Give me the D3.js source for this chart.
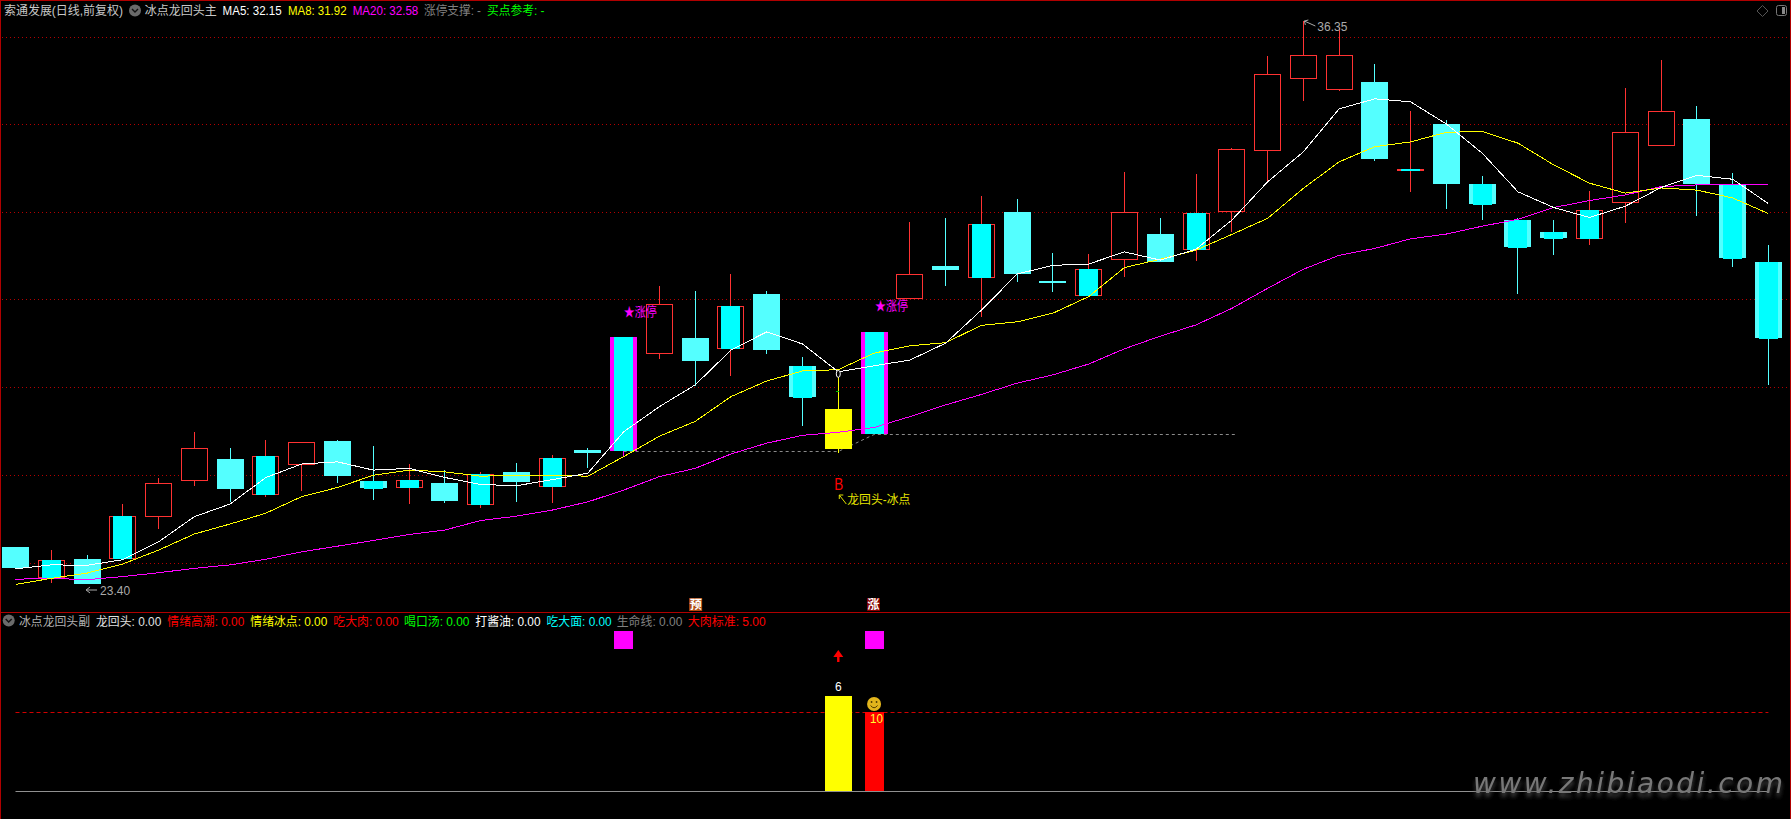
<!DOCTYPE html>
<html><head><meta charset="utf-8">
<style>html,body{margin:0;padding:0;background:#000;overflow:hidden}svg{display:block}
text{font-family:"Liberation Sans","Noto Sans CJK SC",sans-serif;font-size:12px}</style>
<script src="https://cdn.jsdelivr.net/npm/d3@7/dist/d3.min.js"></script>
</head><body><svg id="c" width="1791" height="819"></svg>
<script>
const open=[24.25,23.54,23.98,23.98,24.95,25.78,26.28,25.45,26.13,26.69,25.77,25.61,25.72,25.22,25.98,25.63,26.48,26.47,28.70,29.06,28.81,30.07,28.41,27.43,26.86,29.95,30.71,30.45,31.96,30.37,30.03,30.85,31.45,31.09,31.95,33.37,35.02,34.77,34.95,32.90,33.98,32.60,31.77,31.50,31.34,32.16,33.48,34.10,32.61,30.81];
const close=[23.77,23.95,23.41,24.96,25.72,26.52,25.59,26.34,26.66,25.88,25.61,25.79,25.31,25.93,25.75,26.30,26.41,29.08,29.83,28.53,29.79,28.78,27.70,26.51,29.20,30.52,30.62,31.68,30.54,30.35,30.65,31.96,30.81,31.93,33.40,35.12,35.56,35.56,33.18,32.95,32.60,32.14,31.15,31.36,32.00,33.79,34.27,32.59,30.90,29.06];
const high=[24.25,24.18,24.07,25.24,25.84,26.90,26.53,26.71,26.66,26.71,26.57,26.16,26.02,25.98,26.18,26.37,26.53,29.08,30.25,30.14,30.53,30.14,28.62,28.32,29.20,31.72,31.83,32.32,32.26,31.01,30.99,32.88,31.83,32.83,33.43,35.54,36.35,36.19,35.36,34.28,34.07,32.78,31.82,31.77,32.44,34.81,35.45,34.39,32.85,31.20];
const low=[23.77,23.43,23.40,23.98,24.67,25.66,25.29,25.41,25.54,25.72,25.33,25.24,25.26,25.15,25.29,25.26,26.06,26.32,28.58,27.96,28.19,28.70,27.04,26.42,26.86,29.95,30.26,29.53,30.35,30.12,30.03,30.46,30.81,30.83,31.50,32.63,34.52,34.75,33.13,32.42,32.03,31.77,30.07,30.97,31.20,31.70,33.48,31.86,30.69,27.98];
// candle class: r up, rc up+signal, c down, cc down+signal, mc limit-up, y dragon-return
const kinds=["c","rc","c","rc","r","r","c","rc","r","c","cc","rc","c","rc","c","rc","c","mc","r","c","rc","c","cc","y","mc","r","c","rc","c","c","rc","r","c","rc","r","r","r","r","c","rc","c","cc","cc","cc","rc","r","r","c","cc","cc"];
const ma5=[23.75,23.84,23.83,23.96,24.37,24.95,25.24,25.85,26.16,26.21,26.02,26.06,25.85,25.69,25.66,25.80,25.95,26.90,27.48,27.98,28.78,29.20,28.92,28.28,28.42,28.55,28.94,29.70,30.53,30.73,30.76,31.04,30.85,31.10,31.77,32.65,33.34,34.33,34.56,34.49,33.98,33.31,32.42,32.06,31.83,32.09,32.52,32.80,32.71,32.15];
const ma8=[23.39,23.53,23.65,23.86,24.18,24.55,24.78,25.03,25.41,25.62,25.90,26.02,25.98,25.88,25.90,25.90,25.88,26.33,26.80,27.14,27.71,28.07,28.30,28.33,28.71,28.88,28.95,29.35,29.43,29.63,30.01,30.68,30.87,31.08,31.44,31.81,32.50,33.11,33.46,33.57,33.79,33.81,33.54,33.04,32.62,32.39,32.51,32.46,32.28,31.92];
const ma20=[23.51,23.53,23.50,23.57,23.66,23.76,23.84,23.97,24.14,24.27,24.40,24.54,24.64,24.86,24.96,25.10,25.29,25.56,25.87,26.06,26.39,26.64,26.82,26.89,27.00,27.25,27.52,27.76,28.02,28.21,28.46,28.81,29.10,29.36,29.74,30.20,30.64,30.96,31.12,31.34,31.45,31.63,31.79,32.06,32.22,32.35,32.54,32.58,32.60,32.58];
const gridPrices=[35.99,33.97,31.95,29.95,27.92,25.90,23.89];
const supportA=[17,23,26.47], supportB=[24,34.1,26.86];
const headerTexts=[["索通发展(日线,前复权)","#c8c8c8"],["冰点龙回头主","#c8c8c8"],["MA5: 32.15","#ffffff"],["MA8: 31.92","#ffff00"],["MA20: 32.58","#ff00ff"],["涨停支撑: -","#808080"],["买点参考: -","#00ff00"]];
const subTexts=[["冰点龙回头副","#b0b0b0"],["龙回头: 0.00","#e0e0e0"],["情绪高潮: 0.00","#ff0000"],["情绪冰点: 0.00","#ffff00"],["吃大肉: 0.00","#ff0000"],["喝口汤: 0.00","#00ff00"],["打酱油: 0.00","#ffffff"],["吃大面: 0.00","#00ffff"],["生命线: 0.00","#808080"],["大肉标准: 5.00","#ff0000"]];
const subBars=[[23,6,"#ffff00"],[24,5,"#ff0000"]];
const subSquares=[17,24];
const subLimit=5;

const svg=d3.select("#c");
const x=d3.scaleLinear().domain([0,49]).range([15.5,1768.4]);
const y=d3.scaleLinear().domain([23.40,36.35]).range([584,21]);
const yS=d3.scaleLinear().domain([0,6]).range([791,696]);
const px=i=>Math.floor(x(i));
const idx=d3.range(open.length);
const UP="#ff3232",LC="#54ffff",BC="#00ffff",MG="#ff00ff",YL="#ffff00";

svg.append("rect").attr("width",1791).attr("height",819).attr("fill","#000");
// grid
svg.append("g").selectAll("line").data(gridPrices).join("line")
 .attr("x1",2).attr("x2",1790).attr("y1",d=>Math.round(y(d))+.5).attr("y2",d=>Math.round(y(d))+.5)
 .attr("stroke","#b40000").attr("stroke-dasharray","1 3");
// frame
const frame=svg.append("g").attr("fill","#b00000");
frame.append("rect").attr("x",0).attr("y",0).attr("width",1791).attr("height",1);
frame.append("rect").attr("x",0).attr("y",0).attr("width",1).attr("height",819);
frame.append("rect").attr("x",1790).attr("y",0).attr("width",1).attr("height",819);
frame.append("rect").attr("x",0).attr("y",612).attr("width",1791).attr("height",1);

// support dashed
const lineS=d3.line().x(d=>x(d[0])).y(d=>Math.round(y(d[1]))+.5);
svg.append("path").attr("fill","none").attr("stroke","#8a8a8a").attr("stroke-dasharray","3 3")
 .attr("d",lineS([[supportA[0],supportA[2]],[supportA[1],supportA[2]],[supportB[0],supportB[2]],[supportB[1],supportB[2]]]));

// candles
const g=svg.append("g").attr("shape-rendering","crispEdges");
const wickColor=k=>k==="mc"?MG:k==="y"?YL:(k==="r"||k==="rc")?UP:LC;
g.selectAll("line.w").data(idx).join("line").attr("class","w")
 .attr("x1",i=>px(i)+.5).attr("x2",i=>px(i)+.5)
 .attr("y1",i=>y(high[i])).attr("y2",i=>y(low[i]))
 .attr("stroke",i=>wickColor(kinds[i]));
const bt=i=>Math.round(y(Math.max(open[i],close[i])));
const bb=i=>Math.max(bt(i)+2,Math.round(y(Math.min(open[i],close[i]))));
idx.forEach(i=>{
 const k=kinds[i],cx=px(i)+.5,t=bt(i),b=bb(i);
 if(k==="r"||k==="rc"){
  g.append("rect").attr("x",cx-13).attr("y",t+.5).attr("width",26).attr("height",b-t-1)
   .attr("fill","#000").attr("stroke",UP);
  if(k==="rc") g.append("rect").attr("x",cx-9.5).attr("y",t).attr("width",19).attr("height",b-t).attr("fill",BC);
 } else if(k==="c"||k==="cc"){
  g.append("rect").attr("x",cx-13.5).attr("y",t).attr("width",27).attr("height",b-t).attr("fill",LC);
  if(k==="cc") g.append("rect").attr("x",cx-9.5).attr("y",t).attr("width",19).attr("height",b-t+1).attr("fill",BC);
 } else if(k==="mc"){
  g.append("rect").attr("x",cx-13.5).attr("y",t).attr("width",27).attr("height",b-t).attr("fill",MG);
  g.append("rect").attr("x",cx-9.5).attr("y",t).attr("width",19).attr("height",b-t).attr("fill",BC);
 } else {
  g.append("rect").attr("x",cx-13.5).attr("y",t).attr("width",27).attr("height",b-t).attr("fill",YL);
 }
});
// small green tick on the signal candle's wick
g.append("rect").attr("x",px(23)-2).attr("y",y(27.43)-18).attr("width",3).attr("height",1).attr("fill","#00c000");

// MAs
const mkLine=d3.line().x((d,i)=>x(i)).y(d=>y(d));
[[ma20,MG],[ma8,YL],[ma5,"#ffffff"]].forEach(([s,c])=>{
 svg.append("path").attr("d",mkLine(s)).attr("fill","none").attr("stroke",c).attr("stroke-width",1).attr("shape-rendering","crispEdges");
});
// small marker
svg.append("ellipse").attr("cx",x(23)).attr("cy",y(ma5[23])+2).attr("rx",2).attr("ry",3.5)
 .attr("fill","#000").attr("stroke","#fff");

function label(tx,ty,s,c,opt={}){
 const t=svg.append("text").attr("x",tx).attr("y",ty).attr("fill",c).text(s);
 if(opt.len) t.attr("textLength",opt.len).attr("lengthAdjust","spacingAndGlyphs");
 if(opt.size) t.style("font-size",opt.size+"px");
 if(opt.anchor) t.attr("text-anchor",opt.anchor);
 if(opt.weight) t.style("font-weight",opt.weight);
 return t;
}
// header row
const headerPos=[[4,119],[144.7,72],[222.6,59],[288,58.5],[352.7,65.6],[424,57],[487,57.5]];
headerTexts.forEach((d,i)=>label(headerPos[i][0],15,d[0],d[1],{len:headerPos[i][1]}));
function chevron(cx,cy){
 svg.append("circle").attr("cx",cx).attr("cy",cy).attr("r",6).attr("fill","#6a6a6a");
 svg.append("path").attr("d",`M${cx-3},${cy-1.5}L${cx},${cy+1.5}L${cx+3},${cy-1.5}`).attr("fill","none").attr("stroke","#111").attr("stroke-width",1.4);
}
chevron(135,10.5);
chevron(8.7,620.5);
const subPos=[[19,71],[96,65.3],[167.3,77],[250.3,77],[333.3,65.3],[404,65.4],[475.3,65.2],[546.5,65.2],[616.7,65.6],[687.7,78]];
subTexts.forEach((d,i)=>label(subPos[i][0],625.5,d[0],d[1],{len:subPos[i][1]}));

// top-right icons
svg.append("path").attr("d","M1762.5,5.5L1768,11L1762.5,16.5L1757,11Z").attr("fill","none").attr("stroke","#555");
svg.append("rect").attr("x",1776.5).attr("y",5.5).attr("width",10).attr("height",10).attr("rx",2).attr("fill","none").attr("stroke","#777");
svg.append("rect").attr("x",1782).attr("y",7).attr("width",3).attr("height",7).attr("fill","#888");

// price extremes
const hiI=high.indexOf(d3.max(high)), loI=low.indexOf(d3.min(low));
const ann=svg.append("g").attr("fill","none").attr("stroke","#aaa");
ann.append("path").attr("d",`M${x(hiI)+1},${y(high[hiI])}L${x(hiI)+12},${y(high[hiI])+5}M${x(hiI)+1},${y(high[hiI])}l4,-1M${x(hiI)+1},${y(high[hiI])}l1,4`);
ann.append("path").attr("d",`M${x(loI)-1},${y(low[loI])+6}H${x(loI)+10}M${x(loI)-1},${y(low[loI])+6}l4,-3M${x(loI)-1},${y(low[loI])+6}l4,3`);
label(x(hiI)+14,31,d3.format(".2f")(high[hiI]),"#aaaaaa",{len:30});
label(x(loI)+13,594.5,d3.format(".2f")(low[loI]),"#aaaaaa",{len:30});

// limit-up and signal labels
label(x(17),316,"★涨停",MG,{size:13,len:33});
label(x(24)+1,310,"★涨停",MG,{size:13,len:33});
label(x(23),490,"B","#ff0000",{size:17,len:9}).attr("x",x(23)-4);
svg.append("path").attr("d",`M${x(23)+8},${504}L${x(23)+1},${495}M${x(23)+1},${495}l4,0M${x(23)+1},${495}l0,4`).attr("fill","none").attr("stroke","#e0e000");
label(x(23)+9,504,"龙回头-冰点","#e6e600",{len:63});

// tags above separator
[[17,"预","#b04a10",72],[24,"涨","#800000",-0.6]].forEach(([i,s,c,dx])=>{
 const cx=x(i)+dx;
 svg.append("rect").attr("x",cx-6.5).attr("y",598).attr("width",13).attr("height",13).attr("fill",c);
 label(cx,609,s,"#ffffff",{anchor:"middle",weight:"bold"});
});

// sub panel
svg.append("line").attr("x1",x(0)).attr("x2",x(49)).attr("y1",Math.round(yS(subLimit))+.5).attr("y2",Math.round(yS(subLimit))+.5)
 .attr("stroke","#d00000").attr("stroke-dasharray","4 3");
svg.append("g").attr("shape-rendering","crispEdges").selectAll("rect").data(subBars).join("rect")
 .attr("x",d=>px(d[0])+.5-(d[0]===23?13.5:9.5)).attr("width",d=>d[0]===23?27:19)
 .attr("y",d=>yS(d[1])).attr("height",d=>yS(0)-yS(d[1])).attr("fill",d=>d[2]);
svg.append("line").attr("x1",x(0)).attr("x2",x(49)).attr("y1",791.5).attr("y2",791.5).attr("stroke","#909090");
svg.append("g").attr("shape-rendering","crispEdges").selectAll("rect").data(subSquares).join("rect")
 .attr("x",d=>px(d)+.5-9.5).attr("width",19).attr("y",yS(10.1)).attr("height",yS(9)-yS(10.1)).attr("fill",MG);
// arrow
const ax=x(23);
svg.append("path").attr("d",`M${ax},650L${ax+5},657H${ax+1.2}V662H${ax-1.2}V657H${ax-5}Z`).attr("fill","#ff0000");
label(ax,691,"6","#ffffff",{anchor:"middle"});
// smiley
const sx=x(24),sy=704;
svg.append("circle").attr("cx",sx).attr("cy",sy).attr("r",7).attr("fill","#e2b51c");
svg.append("circle").attr("cx",sx-2.5).attr("cy",sy-2).attr("r",.9).attr("fill","#503c00");
svg.append("circle").attr("cx",sx+2.5).attr("cy",sy-2).attr("r",.9).attr("fill","#503c00");
svg.append("path").attr("d",`M${sx-3.5},${sy+1.5}Q${sx},${sy+6},${sx+3.5},${sy+1.5}`).attr("fill","none").attr("stroke","#503c00");
label(sx+9,723,"10","#ffff33",{anchor:"end",len:13});

// watermark
const f=svg.append("defs").append("filter").attr("id","b").attr("x","-5%").attr("y","-30%").attr("width","110%").attr("height","170%");
f.append("feDropShadow").attr("dx",0).attr("dy",4).attr("stdDeviation",2).attr("flood-color","#484848");
svg.append("text").attr("x",1473).attr("y",792.5).attr("fill","#787878")
 .attr("textLength",310).attr("lengthAdjust","spacing").attr("filter","url(#b)")
 .style("font-family","DejaVu Sans").style("font-style","italic").style("font-size","28px").text("www.zhibiaodi.com");
</script></body></html>
